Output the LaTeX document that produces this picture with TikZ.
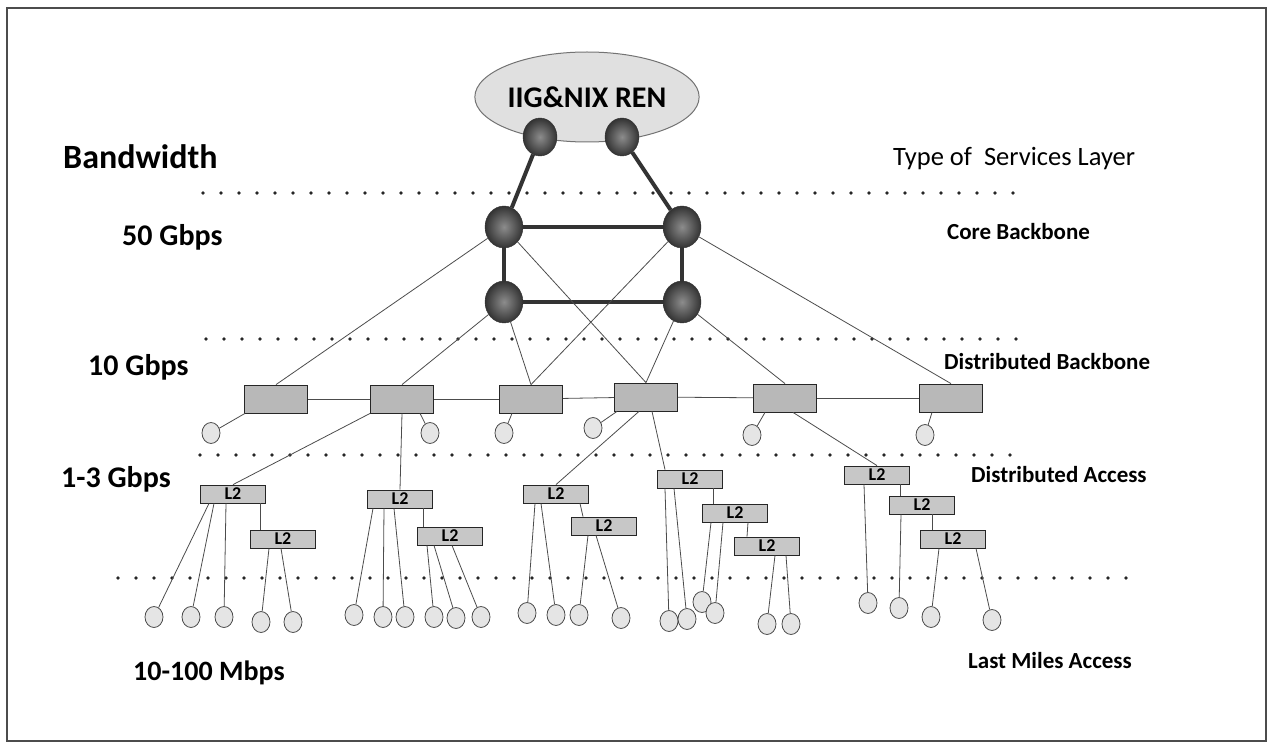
\documentclass[tikz,border=0pt]{standalone}
\usepackage{fontspec}
\setmainfont{Carlito}
\usetikzlibrary{shapes.geometric, positioning}

\begin{document}
\begin{tikzpicture}[x=1pt, y=-1pt,
    ren/.style={ellipse, fill=black!12, draw=black!55, line width=1pt, minimum width=210, minimum height=90, inner sep=0pt},
    knot/.style={ellipse, draw=black!80, inner color=black!45, outer color=black!80, minimum width=38, minimum height=42, inner sep=0pt},
    dist/.style={rectangle, fill=black!28, draw=black!85, line width=0.8pt, minimum width=63, minimum height=28, inner sep=0pt},
    ltwo/.style={rectangle, fill=black!22, draw=black!85, line width=0.8pt, minimum width=65, minimum height=18, inner sep=0pt, font=\bfseries\fontsize{18}{18}\selectfont},
    leaf/.style={ellipse, fill=black!10, draw=black!70, line width=0.8pt, minimum width=18, minimum height=21, inner sep=0pt},
    link/.style={draw=black!70, line width=0.8pt},
    trunk/.style={draw=black!80, line width=4pt},
    dotline/.style={draw=black!85, line width=3.6pt, line cap=round, dash pattern=on 0pt off 18pt},
    lbl/.style={anchor=west, inner sep=0pt}]

    \useasboundingbox (0,0) rectangle (1270,743);
    \draw[line width=1.5pt, black!70] (7,8) rectangle (1266,741);

    % Layer separators
    \draw[dotline] (203,193) -- (1022,193);
    \draw[dotline] (206,339) -- (1022,339);
    \draw[dotline] (200,455) -- (1018,455);
    \draw[dotline] (118,578) -- (1130,578);

    % Left and right labels
    \node[lbl, font=\bfseries\fontsize{34}{40}\selectfont] (bw) at (63,157) {Bandwidth};
    \node[lbl, font=\bfseries\fontsize{30}{36}\selectfont] (g50) at (122,237) {50 Gbps};
    \node[lbl, font=\bfseries\fontsize{30}{36}\selectfont] (g10) at (88,367) {10 Gbps};
    \node[lbl, font=\bfseries\fontsize{30}{36}\selectfont] (g13) at (61,479) {1-3 Gbps};
    \node[lbl, font=\bfseries\fontsize{28}{34}\selectfont] (m100) at (133,673) {10-100 Mbps};
    \node[lbl, font=\fontsize{26.5}{30}\selectfont] (tsl) at (893,159) {Type of~ Services Layer};
    \node[lbl, font=\bfseries\fontsize{23}{28}\selectfont] (cbb) at (947,232) {Core Backbone};
    \node[lbl, font=\bfseries\fontsize{23}{28}\selectfont] (dbb) at (944,362) {Distributed Backbone};
    \node[lbl, font=\bfseries\fontsize{23}{28}\selectfont] (dac) at (971,475) {Distributed Access};
    \node[lbl, font=\bfseries\fontsize{23}{28}\selectfont] (lma) at (968,661) {Last Miles Access};

    % REN cloud and core
    \node[ren, font=\bfseries\fontsize{30}{36}\selectfont] (REN) at (587,97) {IIG\&NIX REN};
    \node[knot, minimum width=34, minimum height=38] (ren1) at (540,137) {};
    \node[knot, minimum width=34, minimum height=38] (ren2) at (622,137) {};
    \node[knot] (K1) at (504,227) {};
    \node[knot] (K2) at (682,227) {};
    \node[knot] (K3) at (504,302) {};
    \node[knot] (K4) at (682,302) {};

    % Distributed backbone
    \node[dist] (D1) at (276,399) {};
    \node[dist] (D2) at (402,399) {};
    \node[dist] (D3) at (531,399) {};
    \node[dist] (D4) at (646,397) {};
    \node[dist] (D5) at (785,398) {};
    \node[dist] (D6) at (951,398) {};
    \foreach \n/\x/\y in {P1/211/433, P2/430/433, P3/504/433, P4/593/428, P5/752/435, P6/925/435}
        \node[leaf] (\n) at (\x,\y) {};

    % Distributed access
    \node[ltwo] (A1) at (233,494) {L2};
    \node[ltwo] (A2) at (283,539) {L2};
    \node[ltwo] (B1) at (400,499) {L2};
    \node[ltwo] (B2) at (450,536) {L2};
    \node[ltwo] (C1) at (556,494) {L2};
    \node[ltwo] (C2) at (604,526) {L2};
    \node[ltwo] (E1) at (690,479) {L2};
    \node[ltwo] (E2) at (735,513) {L2};
    \node[ltwo] (E3) at (767,546) {L2};
    \node[ltwo] (F1) at (877,475) {L2};
    \node[ltwo] (F2) at (922,505) {L2};
    \node[ltwo] (F3) at (953,539) {L2};

    % Last miles
    \foreach \n/\x/\y in {a1/154/617, a2/191/617, a3/224/617, a4/261/622, a5/293/622,
                          b1/354/615, b2/383/617, b3/405/617, b4/434/617, b5/456/618, b6/481/617,
                          c1/527/613, c2/556/615, c3/579/615, c4/621/618,
                          e1/669/621, e2/687/619, e3/702/602, e4/715/613, e5/767/624, e6/791/624,
                          f1/868/603, f2/899/608, f3/931/617, f4/992/620}
        \node[leaf] (\n) at (\x,\y) {};

    % Trunks
    \draw[trunk] (ren1) -- (K1);
    \draw[trunk] (ren2) -- (K2);
    \draw[trunk] (K1) -- (K2);
    \draw[trunk] (K3) -- (K4);
    \draw[trunk] (K1) -- (K3);
    \draw[trunk] (K2) -- (K4);

    % Core to distributed backbone
    \foreach \k/\d in {K1/D1, K1/D4, K2/D3, K2/D6, K3/D2, K3/D3, K4/D4, K4/D5}
        \draw[link] (\k) -- (\d.north);
    \foreach \d/\e in {D1/D2, D2/D3, D3/D4, D4/D5, D5/D6}
        \draw[link] (\d) -- (\e);
    \foreach \p/\d/\s in {P1/D1/-31, P2/D2/18, P3/D3/-19, P4/D4/-29, P5/D5/-20, P6/D6/-19}
        \draw[link] (\p) -- ([xshift=\s]\d.south);

    % Backbone to access
    \draw[link] (D2.south west) -- (A1.north);
    \draw[link] (D2.south) -- (B1.north);
    \draw[link] ([xshift=-7]D4.south) -- (C1.north);
    \draw[link] ([xshift=6]D4.south) -- ([xshift=-25]E1.north);
    \draw[link] ([xshift=8]D5.south) -- (F1.north);

    % L2 chains
    \foreach \u/\su/\v/\sv in {A1/27/A2/-23, B1/23/B2/-27, C1/24/C2/-21, E1/23/E2/-22,
                               E2/13/E3/-20, F1/23/F2/-22, F2/10/F3/-21}
        \draw[link] ([xshift=\su]\u.south) -- ([xshift=\sv]\v.north);

    % L2 to last miles
    \foreach \b/\s/\l in {A1/-24/a1, A1/-19/a2, A1/-7/a3, A2/-14/a4, A2/-2/a5,
                          B1/-27/b1, B1/-16/b2, B1/-6/b3, B2/-23/b4, B2/-16/b5, B2/2/b6,
                          C1/-21/c1, C1/-15/c2, C2/-16/c3, C2/-8/c4,
                          E1/-25/e1, E1/-16/e2, E2/-24/e3, E2/-12/e4, E3/8/e5, E3/19/e6,
                          F1/-13/f1, F2/-21/f2, F3/-14/f3, F3/23/f4}
        \draw[link] ([xshift=\s]\b.south) -- (\l);
\end{tikzpicture}
\end{document}
